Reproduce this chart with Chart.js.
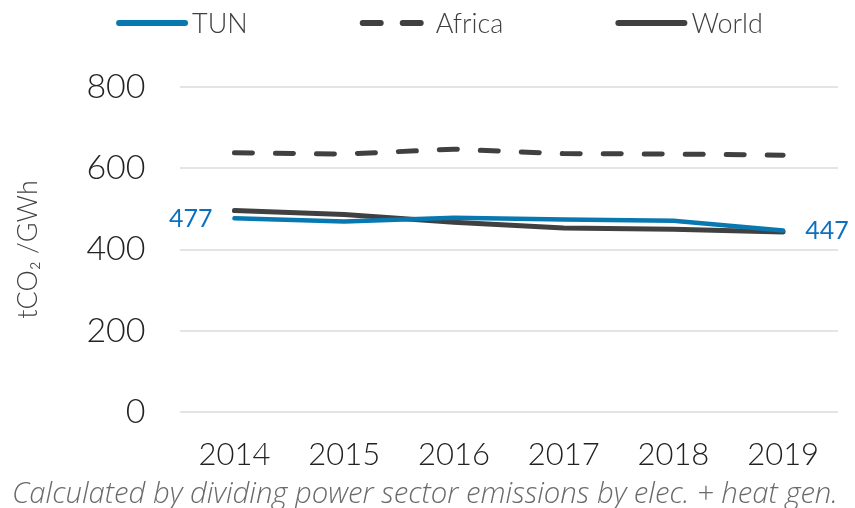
<!DOCTYPE html>
<html>
<head>
<meta charset="utf-8">
<script src="https://cdn.jsdelivr.net/npm/chart.js@4"></script>
<style>
  html, body { margin: 0; padding: 0; background: #fff; }
  #wrap { width: 855px; height: 508px; }
</style>
</head>
<body>
<div id="wrap"><canvas id="chart" width="855" height="508"></canvas></div>
<script>
// ---- Data ----
const years = ["2014", "2015", "2016", "2017", "2018", "2019"];
const tun = [477, 469, 478, 474, 471, 447];
const africa = [638, 635, 647, 636, 635, 632];
const world = [496, 486, 467, 453, 450, 443];
const yTicks = [0, 200, 400, 600, 800];
const footnote = "Calculated by dividing power sector emissions by elec. + heat gen.";

const FONT = "Lato";
const dark = "#404040";
const blue = "#0878b0";

// legend drawn on the canvas, from the datasets (wide spacing like the original)
const topLegend = {
  id: "topLegend",
  afterDraw(chart) {
    const ctx = chart.ctx;
    const sets = chart.data.datasets;
    const lineW = 72, gap = 4, spacing = 112, y = 23;
    ctx.save();
    ctx.font = "300 27px " + FONT;
    const widths = sets.map(ds => lineW + gap + ctx.measureText(ds.label).width);
    const total = widths.reduce((a, b) => a + b, 0) + spacing * (sets.length - 1);
    let x = (chart.width - total) / 2 + 12;
    sets.forEach((ds, i) => {
      ctx.beginPath();
      ctx.strokeStyle = ds.borderColor;
      ctx.lineWidth = 6;
      ctx.lineCap = "round";
      ctx.setLineDash(ds.borderDash ? [18, 22] : []);
      ctx.moveTo(x + 3, y);
      ctx.lineTo(x + lineW - 3, y);
      ctx.stroke();
      ctx.setLineDash([]);
      ctx.fillStyle = dark;
      ctx.textAlign = "left";
      ctx.textBaseline = "middle";
      ctx.fillText(ds.label, x + lineW + gap, y + 1);
      x += widths[i] + spacing;
    });
    ctx.restore();
  }
};

// end labels for TUN (first and last point)
const endLabels = {
  id: "endLabels",
  afterDatasetsDraw(chart) {
    const pts = chart.getDatasetMeta(0).data;
    const ctx = chart.ctx;
    ctx.save();
    ctx.font = "400 25px " + FONT;
    ctx.fillStyle = "#0a70c0";
    ctx.textBaseline = "middle";
    ctx.textAlign = "right";
    ctx.fillText(String(tun[0]), pts[0].x - 22, pts[0].y + 1);
    ctx.textAlign = "left";
    const last = pts.length - 1;
    ctx.fillText(String(tun[last]), pts[last].x + 22, pts[last].y + 1);
    ctx.restore();
  }
};

new Chart(document.getElementById("chart"), {
  type: "line",
  data: {
    labels: years,
    datasets: [
      { label: "TUN", data: tun, borderColor: blue, borderWidth: 4.5, pointRadius: 0, tension: 0, borderCapStyle: "round" },
      { label: "Africa", data: africa, borderColor: dark, borderWidth: 5, pointRadius: 0, tension: 0, borderDash: [18, 23], borderCapStyle: "round" },
      { label: "World", data: world, borderColor: dark, borderWidth: 5, pointRadius: 0, tension: 0, borderCapStyle: "round" }
    ]
  },
  options: {
    responsive: false,
    animation: false,
    layout: { padding: { left: 12, right: 17, top: 87, bottom: 0 } },
    plugins: {
      legend: { display: false },
      title: {
        display: true,
        position: "bottom",
        text: footnote,
        color: "#6a6a6a",
        font: { family: "Open Sans", size: 30, weight: "300", style: "italic" },
        padding: { top: 0, bottom: -4 }
      },
      tooltip: { enabled: false }
    },
    scales: {
      x: {
        offset: true,
        afterFit(scale) { scale.height = 64; },
        grid: { display: false, drawTicks: false },
        border: { display: false },
        ticks: { color: "#222", font: { family: FONT, size: 31, weight: "300" }, padding: 24, maxRotation: 0 }
      },
      y: {
        min: 0,
        max: 800,
        afterBuildTicks(scale) { scale.ticks = yTicks.map(v => ({ value: v })); },
        grid: { color: "#e4e4e4", lineWidth: 2, drawTicks: false },
        border: { display: false },
        ticks: { color: "#222", font: { family: FONT, size: 34, weight: "300" }, padding: 34 },
        title: {
          display: true,
          text: "tCO\u2082 /GWh",
          color: dark,
          font: { family: FONT, size: 27, weight: "300" },
          padding: { top: 0, bottom: 8 }
        }
      }
    }
  },
  plugins: [endLabels, topLegend]
});
</script>
</body>
</html>
